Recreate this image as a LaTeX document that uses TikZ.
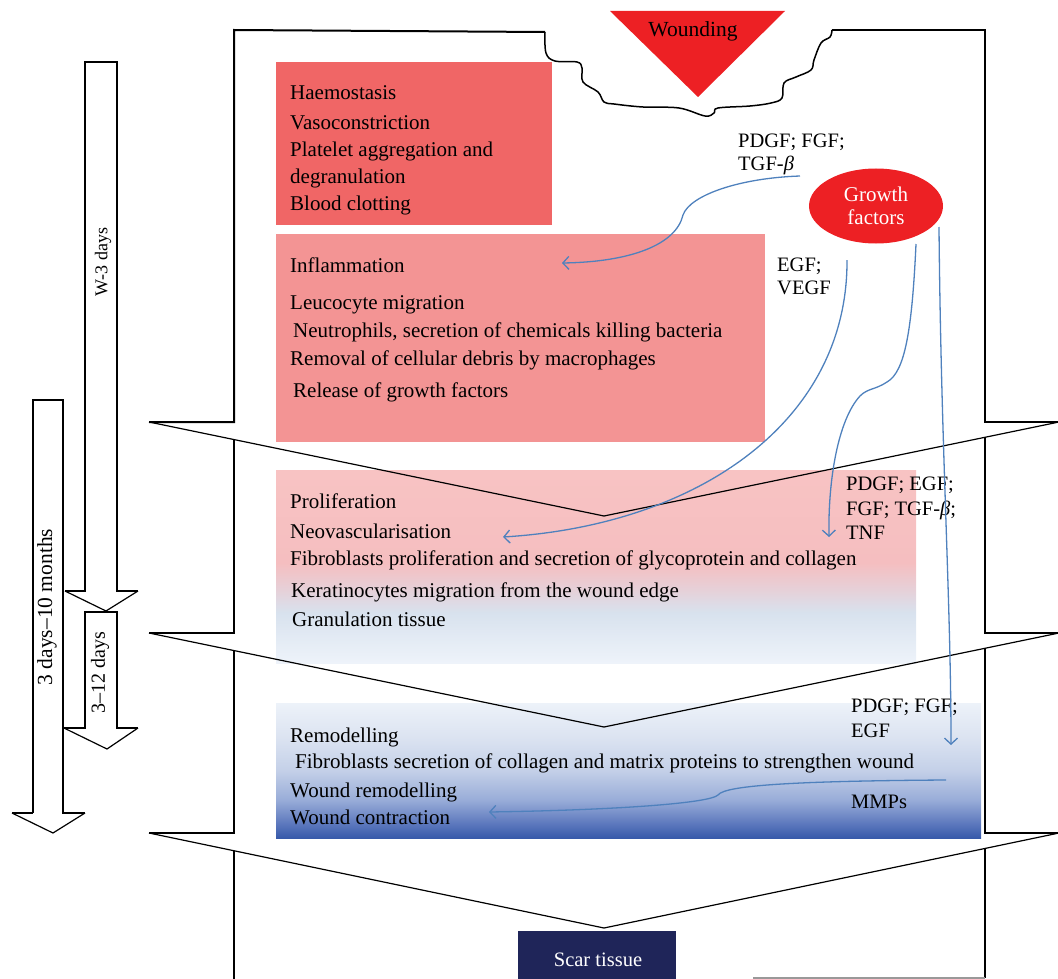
\documentclass[tikz,border=0pt]{standalone}
\usepackage{fontspec}
\setmainfont{Liberation Serif}
\usetikzlibrary{shapes.geometric,arrows.meta}
\definecolor{haemc}{RGB}{240,102,102}
\definecolor{inflc}{RGB}{243,148,148}
\definecolor{gfred}{RGB}{237,32,36}
\definecolor{scarc}{RGB}{31,37,89}
\definecolor{gfblue}{RGB}{79,129,189}
\definecolor{pb0}{RGB}{238,243,250}
\definecolor{pb1}{RGB}{216,226,238}
\definecolor{pb2}{RGB}{230,208,216}
\definecolor{pb3}{RGB}{245,190,192}
\definecolor{pb4}{RGB}{248,195,195}
\definecolor{rb0}{RGB}{55,90,170}
\definecolor{rb1}{RGB}{90,118,188}
\definecolor{rb2}{RGB}{152,172,216}
\definecolor{rb3}{RGB}{196,208,232}
\definecolor{rb4}{RGB}{219,227,241}
\definecolor{rb5}{RGB}{237,242,249}
\pgfdeclareverticalshading{prolifsh}{100bp}{color(0bp)=(pb0); color(25bp)=(pb0); color(38bp)=(pb1); color(44bp)=(pb2); color(51bp)=(pb3); color(75bp)=(pb4); color(100bp)=(pb4)}
\pgfdeclareverticalshading{remodsh}{100bp}{color(0bp)=(rb0); color(25bp)=(rb0); color(30bp)=(rb1); color(39bp)=(rb2); color(50bp)=(rb3); color(62bp)=(rb4); color(75bp)=(rb5); color(100bp)=(rb5)}
\tikzset{
  txt/.style={anchor=base west, inner sep=0pt, font=\fontsize{21}{24}\selectfont},
  lbl/.style={anchor=base west, inner sep=0pt, font=\fontsize{20.5}{24}\selectfont},
  rtxt/.style={inner sep=0pt, rotate=90, font=\fontsize{#1}{24}\selectfont},
  boxnode/.style={draw=none, inner sep=0pt, outer sep=0pt, anchor=north west},
  thickln/.style={line width=2pt, line join=miter},
  thinln/.style={line width=1.2pt},
  gfarrow/.style={draw=gfblue, line width=1.3pt, -{Straight Barb[length=6pt,width=13pt]}},
}
\begin{document}
\begin{tikzpicture}[x=1pt,y=-1pt]
\useasboundingbox (0,0) rectangle (1058,979);

% coloured stage boxes
\node[boxnode, fill=haemc, minimum width=276pt, minimum height=163pt] (haem) at (276,62) {};
\node[boxnode, fill=inflc, minimum width=489pt, minimum height=208pt] (infl) at (276,234) {};
\node[boxnode, shading=prolifsh, minimum width=640pt, minimum height=193pt] (prol) at (276,470) {};
\node[boxnode, shading=remodsh, minimum width=705pt, minimum height=135pt] (remo) at (276,703) {};

% stage outlines (stacked chevrons)
\draw[line width=1.5pt] plot[smooth,tension=0.6] coordinates {(545,32) (546,53) (555,61) (577,62) (582,68) (583,82) (598,92) (604,102) (614,104) (643,107) (679,108) (705,116) (714,113) (718,108) (750,106) (771,103) (782,98) (784,83) (796,77) (811,70) (814,60) (821,43) (830,37) (832,30)};
\draw[thickln] (545,32) -- (234,30) -- (234,422) -- (149,422);
\draw[thinln] (149,422) -- (604,516) -- (1059,422);
\draw[thickln] (1059,422) -- (985,422) -- (985,30) -- (832,30);

\draw[thickln] (234,440) -- (234,633) -- (149,633);
\draw[thinln] (149,633) -- (604,727) -- (1059,633);
\draw[thickln] (1059,633) -- (985,633) -- (985,437);

\draw[thickln] (234,651) -- (234,833) -- (149,833);
\draw[thinln] (149,833) -- (604,928) -- (1059,833);
\draw[thickln] (1059,833) -- (985,833) -- (985,648);

\draw[thickln] (234,851) -- (234,979);
\draw[thickln] (985,849) -- (985,978);
\draw[line width=1.2pt, black!40] (753,978) -- (985,978);

% wounding triangle
\fill[gfred] (610,11) -- (785,11) -- (698,97) -- cycle;
\node[inner sep=0pt, anchor=base, font=\fontsize{21.5}{24}\selectfont] (wound) at (693,37) {Wounding};

% growth factors
\node[ellipse, fill=gfred, minimum width=134pt, minimum height=75pt, inner sep=0pt, text=white, align=center, font=\fontsize{21}{23}\selectfont] (gf) at (876,206) {Growth\\factors};

% scar tissue
\node[boxnode, fill=scarc, minimum width=158pt, minimum height=48pt] (scar) at (518,931) {};
\node[inner sep=0pt, anchor=base, text=white, font=\fontsize{20.5}{24}\selectfont] (scartxt) at (598,966) {Scar tissue};

% time arrows
\fill[white] (33,400) -- (63,400) -- (63,813) -- (85,813) -- (53,833) -- (12,813) -- (33,813) -- cycle;
\draw[thickln] (33,813) -- (33,400) -- (63,400) -- (63,813) -- (85,813);
\draw[thickln] (12,813) -- (33,813);
\draw[thinln] (12,813) -- (53,833) -- (85,813);

\fill[white] (85,62) -- (117,62) -- (117,591) -- (138,591) -- (106,611) -- (65,591) -- (85,591) -- cycle;
\draw[thickln] (65,591) -- (85,591) -- (85,62) -- (117,62) -- (117,591) -- (138,591);
\draw[thinln] (65,591) -- (106,611) -- (138,591);

\fill[white] (85,612) -- (117,612) -- (117,728) -- (138,728) -- (107,749) -- (64,728) -- (85,728) -- cycle;
\draw[thickln] (64,728) -- (85,728) -- (85,612) -- (117,612) -- (117,728) -- (138,728);
\draw[thinln] (64,728) -- (107,749) -- (138,728);

\node[rtxt=18] (t1) at (103,262) {W-3 days};
\node[rtxt=21.5] (t2) at (47,607) {3 days–10 months};
\node[rtxt=20] (t3) at (100,673) {3–12 days};

% texts in boxes
\node[txt] (h1) at (290,100) {Haemostasis};
\node[txt] (h2) at (290,130) {Vasoconstriction};
\node[txt] (h3) at (290,157) {Platelet aggregation and};
\node[txt] (h4) at (290,184) {degranulation};
\node[txt] (h5) at (290,211) {Blood clotting};

\node[txt] (i1) at (290,272) {Inflammation};
\node[txt] (i2) at (290,309) {Leucocyte migration};
\node[txt] (i3) at (293,337) {Neutrophils, secretion of chemicals killing bacteria};
\node[txt] (i4) at (290,365) {Removal of cellular debris by macrophages};
\node[txt] (i5) at (293,397) {Release of growth factors};

\node[txt] (p1) at (290,508) {Proliferation};
\node[txt] (p2) at (290,538) {Neovascularisation};
\node[txt] (p3) at (290,565) {Fibroblasts proliferation and secretion of glycoprotein and collagen};
\node[txt] (p4) at (291,597) {Keratinocytes migration from the wound edge};
\node[txt] (p5) at (292,626) {Granulation tissue};

\node[txt] (r1) at (290,742) {Remodelling};
\node[txt] (r2) at (295,768) {Fibroblasts secretion of collagen and matrix proteins to strengthen wound};
\node[txt] (r3) at (290,797) {Wound remodelling};
\node[txt] (r4) at (290,824) {Wound contraction};

% growth factor labels
\node[lbl] (l1a) at (738,148) {PDGF; FGF;};
\node[lbl] (l1b) at (738,171) {TGF-\textit{β}};
\node[lbl] (l2a) at (777,271) {EGF;};
\node[lbl] (l2b) at (777,294) {VEGF};
\node[lbl] (l3a) at (846,490) {PDGF; EGF;};
\node[lbl] (l3b) at (846,515) {FGF; TGF-\textit{β};};
\node[lbl] (l3c) at (846,539) {TNF};
\node[lbl] (l4a) at (851,712) {PDGF; FGF;};
\node[lbl] (l4b) at (851,737) {EGF};
\node[lbl] (l5) at (851,808) {MMPs};

% growth factor connectors
\coordinate (a1s) at (800,176);
\coordinate (a1e) at (562,263);
\coordinate (a2s) at (847,260);
\coordinate (a2e) at (503,537);
\coordinate (a3s) at (916,244);
\coordinate (a3e) at (829,537);
\coordinate (a4s) at (939,227);
\coordinate (a4e) at (951,745);
\coordinate (a5s) at (946,780);
\coordinate (a5e) at (489,812);
\draw[gfarrow] (a1s) .. controls (740,178) and (690,195) .. (683,215) .. controls (676,245) and (630,262) .. (a1e);
\draw[gfarrow] (a2s) .. controls (848,420) and (700,525) .. (a2e);
\draw[gfarrow] (a3s) .. controls (912,330) and (905,372) .. (887,382) .. controls (875,390) and (868,388) .. (860,396) .. controls (838,420) and (828,480) .. (a3e);
\draw[gfarrow] (a4s) .. controls (941,450) and (951,600) .. (a4e);
\draw[gfarrow] (a5s) .. controls (800,781) and (725,785) .. (718,795) .. controls (710,803) and (620,810) .. (a5e);
\end{tikzpicture}
\end{document}
